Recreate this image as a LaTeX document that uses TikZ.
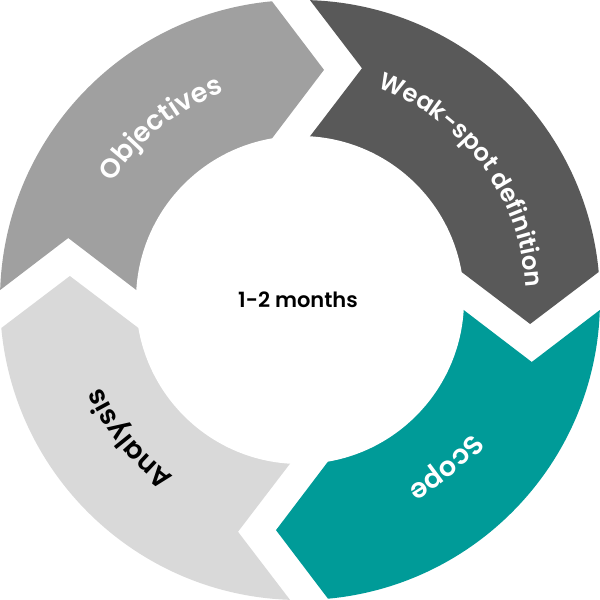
\documentclass[tikz,border=0pt]{standalone}
\usepackage{fontspec}
\usetikzlibrary{decorations.text}
\newfontfamily\objfont{Poppins SemiBold}[LetterSpace=12]
\newfontfamily\weakfont{Poppins SemiBold}[LetterSpace=0]
\newfontfamily\scopefont{Poppins SemiBold}[LetterSpace=30]
\newfontfamily\anafont{Poppins SemiBold}[LetterSpace=22]
\newfontfamily\centfont{Poppins SemiBold}
\definecolor{objc}{HTML}{A0A0A0}
\definecolor{weakc}{HTML}{595959}
\definecolor{scopec}{HTML}{009B98}
\definecolor{anac}{HTML}{D9D9D9}
\tikzset{
  arclabel/.style={decorate, decoration={text along path, text align=center, #1}},
}
\begin{document}
\begin{tikzpicture}[x=0.5pt,y=0.5pt]
\useasboundingbox (-300,-300) rectangle (300,300);
\begin{scope}
  \clip (0,0) circle (300);
  \foreach \r/\c in {0/objc,-90/weakc,-180/scopec,-270/anac}{
    \fill[\c, rotate=\r] (-340,10) -- (-299.83,10) -- (-231.76,62) -- (-163.69,10) -- (0,0)
      -- (-28,161.59) -- (24,230.14) -- (-28,298.69) -- (-28,340) -- (-340,340) -- cycle;
  }
\end{scope}
\fill[white] (0,0) circle (164);
\node (center) at (-2,0) {\centfont\fontsize{10.5}{12}\selectfont 1-2 months};
\path[arclabel={text color=white, text={|\objfont\fontsize{13.5}{15}\selectfont|Objectives}}]
  (179:221) arc[start angle=179, end angle=79, radius=221];
\path[arclabel={text color=white, text={|\weakfont\fontsize{12.2}{14}\selectfont|Weak-spot definition}}]
  (100:226) arc[start angle=100, end angle=-27, radius=226];
\path[arclabel={text color=white, text={|\scopefont\fontsize{13.5}{15}\selectfont|Scope}}]
  (1:217) arc[start angle=1, end angle=-99, radius=217];
\path[arclabel={text color=black, text={|\anafont\fontsize{13.5}{15}\selectfont|Analysis}}]
  (269:217) arc[start angle=269, end angle=169, radius=217];
\end{tikzpicture}
\end{document}
